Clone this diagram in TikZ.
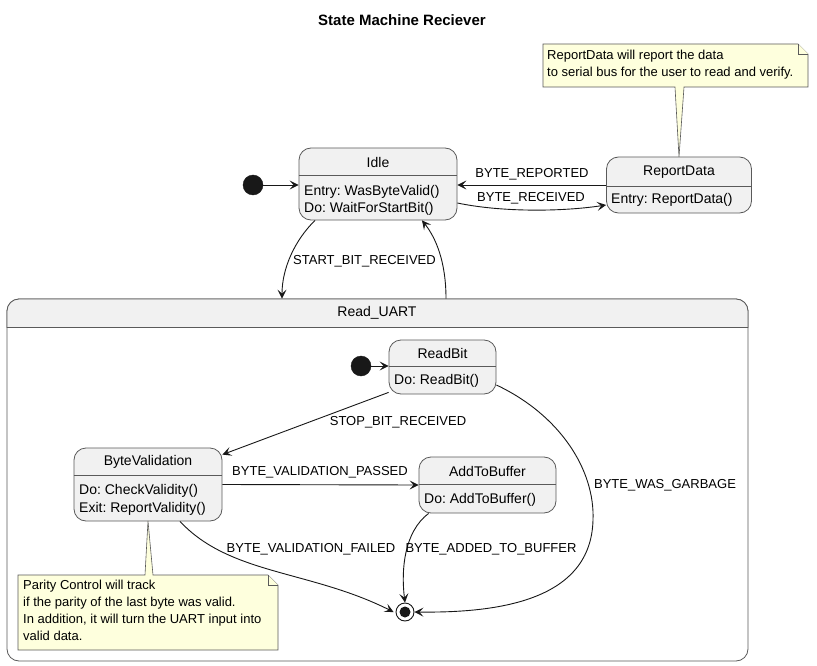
\documentclass[tikz,border=0pt]{standalone}
\usepackage{fontspec}
\setmainfont{Liberation Sans}
\usetikzlibrary{arrows.meta,calc}
\frenchspacing
\definecolor{sfill}{HTML}{F1F1F1}
\definecolor{sline}{HTML}{5A5A5A}
\definecolor{aline}{HTML}{181818}
\definecolor{nfill}{HTML}{FEFFDD}
\tikzset{
  x=1pt, y=-1pt,
  stbox/.style={draw=sline, fill=sfill, rounded corners=12pt, line width=0.8pt, inner sep=0pt},
  txt/.style={font=\fontsize{13}{16}\selectfont, inner sep=0pt, text=black},
  stxt/.style={font=\fontsize{14}{16}\selectfont, inner sep=0pt, text=black},
  ltxt/.style={stxt, anchor=west},
  notetxt/.style={font=\fontsize{13}{17}\selectfont, inner sep=0pt, anchor=north west, align=left, text=black},
  arr/.style={draw=aline, line width=0.9pt, -{Stealth[length=9pt,width=9pt,inset=4pt]}},
  notebox/.style={draw=sline, fill=nfill, line width=0.6pt},
  initdot/.style={circle, fill=aline, draw=aline, minimum size=20pt, inner sep=0pt},
}
\begin{document}
\begin{tikzpicture}
\useasboundingbox (0,0) rectangle (817,666);
\fill[white] (0,0) rectangle (817,666);

% title
\node[txt, font=\bfseries\fontsize{15}{17}\selectfont] (title) at (402,20) {State Machine Reciever};

% top note
\draw[notebox] (543,44) -- (798,44) -- (808,54) -- (808,87) -- (684,87) -- (679,157) -- (675,87) -- (543,87) -- cycle;
\draw[notebox] (798,44) -- (798,54) -- (808,54);
\node[notetxt] (note1) at (547,50) {ReportData will report the data\\to serial bus for the user to read and verify.};

% Read_UART composite
\node[stbox, fill=white, minimum width=741pt, minimum height=362pt] (uart) at (377.5,480) {};
\begin{scope}
  \clip (uart.north west) rectangle (uart.east |- 0,327);
  \node[stbox, minimum width=741pt, minimum height=362pt] (uartbg) at (377.5,480) {};
\end{scope}
\draw[sline, line width=0.8pt] (uart.west |- 0,327) -- (uart.east |- 0,327);
\node[stxt] (uartt) at (377,313) {Read\_UART};

% Idle
\node[stbox, minimum width=158pt, minimum height=72pt] (idle) at (378,184) {};
\draw[sline, line width=0.8pt] (idle.west |- 0,175) -- (idle.east |- 0,175);
\node[stxt] (idlet) at (378,162) {Idle};
\node[ltxt] (idle1) at (304,192) {Entry: WasByteValid()};
\node[ltxt] (idle2) at (304,209) {Do: WaitForStartBit()};

% ReportData
\node[stbox, minimum width=145pt, minimum height=56pt] (rep) at (679,185) {};
\draw[sline, line width=0.8pt] (rep.west |- 0,186) -- (rep.east |- 0,186);
\node[stxt] (rept) at (679,172) {ReportData};
\node[ltxt] (rep1) at (611,200) {Entry: ReportData()};

% initial
\node[initdot] (init1) at (253,185) {};

% ReadBit
\node[stbox, minimum width=107pt, minimum height=54pt] (rb) at (442.5,367) {};
\draw[sline, line width=0.8pt] (rb.west |- 0,366) -- (rb.east |- 0,366);
\node[stxt] (rbt) at (442.5,353) {ReadBit};
\node[ltxt] (rb1) at (394,381) {Do: ReadBit()};

\node[initdot] (init2) at (361,366) {};

% ByteValidation
\node[stbox, minimum width=148pt, minimum height=73pt] (bv) at (148,484.5) {};
\draw[sline, line width=0.8pt] (bv.west |- 0,475) -- (bv.east |- 0,475);
\node[stxt] (bvt) at (148,462) {ByteValidation};
\node[ltxt] (bv1) at (79,491) {Do: CheckValidity()};
\node[ltxt] (bv2) at (79,509) {Exit: ReportValidity()};

% AddToBuffer
\node[stbox, minimum width=137pt, minimum height=56pt] (ab) at (487.5,485) {};
\draw[sline, line width=0.8pt] (ab.west |- 0,484) -- (ab.east |- 0,484);
\node[stxt] (abt) at (487.5,471) {AddToBuffer};
\node[ltxt] (ab1) at (424,500) {Do: AddToBuffer()};

% final
\node[circle, draw=aline, fill=white, line width=0.9pt, minimum size=18pt, inner sep=0pt] (fin) at (405,612) {};
\node[circle, fill=aline, minimum size=11pt, inner sep=0pt] (fin2) at (fin) {};

% bottom note
\draw[notebox] (18,575) -- (145,575) -- (148,521) -- (153,575) -- (268,575) -- (278,585) -- (278,650) -- (18,650) -- cycle;
\draw[notebox] (268,575) -- (268,585) -- (278,585);
\node[notetxt] (note2) at (23,580) {Parity Control will track\\if the parity of the last byte was valid.\\In addition, it will turn the UART input into\\valid data.};

% transitions
\draw[arr] (init1) -- (idle.west |- init1);
\draw[arr] (rep.west) -- (rep.west -| idle.east);
\node[txt] (l1) at (532,174) {BYTE\_REPORTED};
\draw[arr] ([yshift=-19pt]idle.east) .. controls (500,212) and (560,212) .. ([yshift=-20pt]rep.west);
\node[txt] (l2) at (531,198) {BYTE\_RECEIVED};

\draw[arr] ([xshift=-63pt]idle.south) .. controls (295,240) and (282,268) .. (uart.north -| 282,0);
\node[txt, anchor=west] (l3) at (293,261) {START\_BIT\_RECEIVED};
\draw[arr] (uart.north -| 446,0) .. controls (446,262) and (436,238) .. ([xshift=44pt]idle.south);

\draw[arr] (init2) -- (rb.west |- init2);
\draw[arr] ([yshift=2pt]rb.south west) -- ([yshift=-7pt]bv.north east);
\node[txt] (l4) at (398,422) {STOP\_BIT\_RECEIVED};

\draw[arr] (bv.east) -- (ab.west);
\node[txt] (l5) at (320,472) {BYTE\_VALIDATION\_PASSED};

\draw[arr] ([xshift=32pt]bv.south) .. controls (230,575) and (310,570) .. ([xshift=-2pt]fin.west);
\node[txt] (l6) at (311,549) {BYTE\_VALIDATION\_FAILED};

\draw[arr] ([xshift=10pt]ab.south west) .. controls (404,532) and (401,570) .. (fin.north);
\node[txt] (l7) at (491,549) {BYTE\_ADDED\_TO\_BUFFER};

\draw[arr] ([yshift=-18pt]rb.east) .. controls (560,415) and (595,470) .. (593,520) .. controls (591,600) and (500,613) .. (fin.east);
\node[txt] (l8) at (665,485) {BYTE\_WAS\_GARBAGE};
\end{tikzpicture}
\end{document}
